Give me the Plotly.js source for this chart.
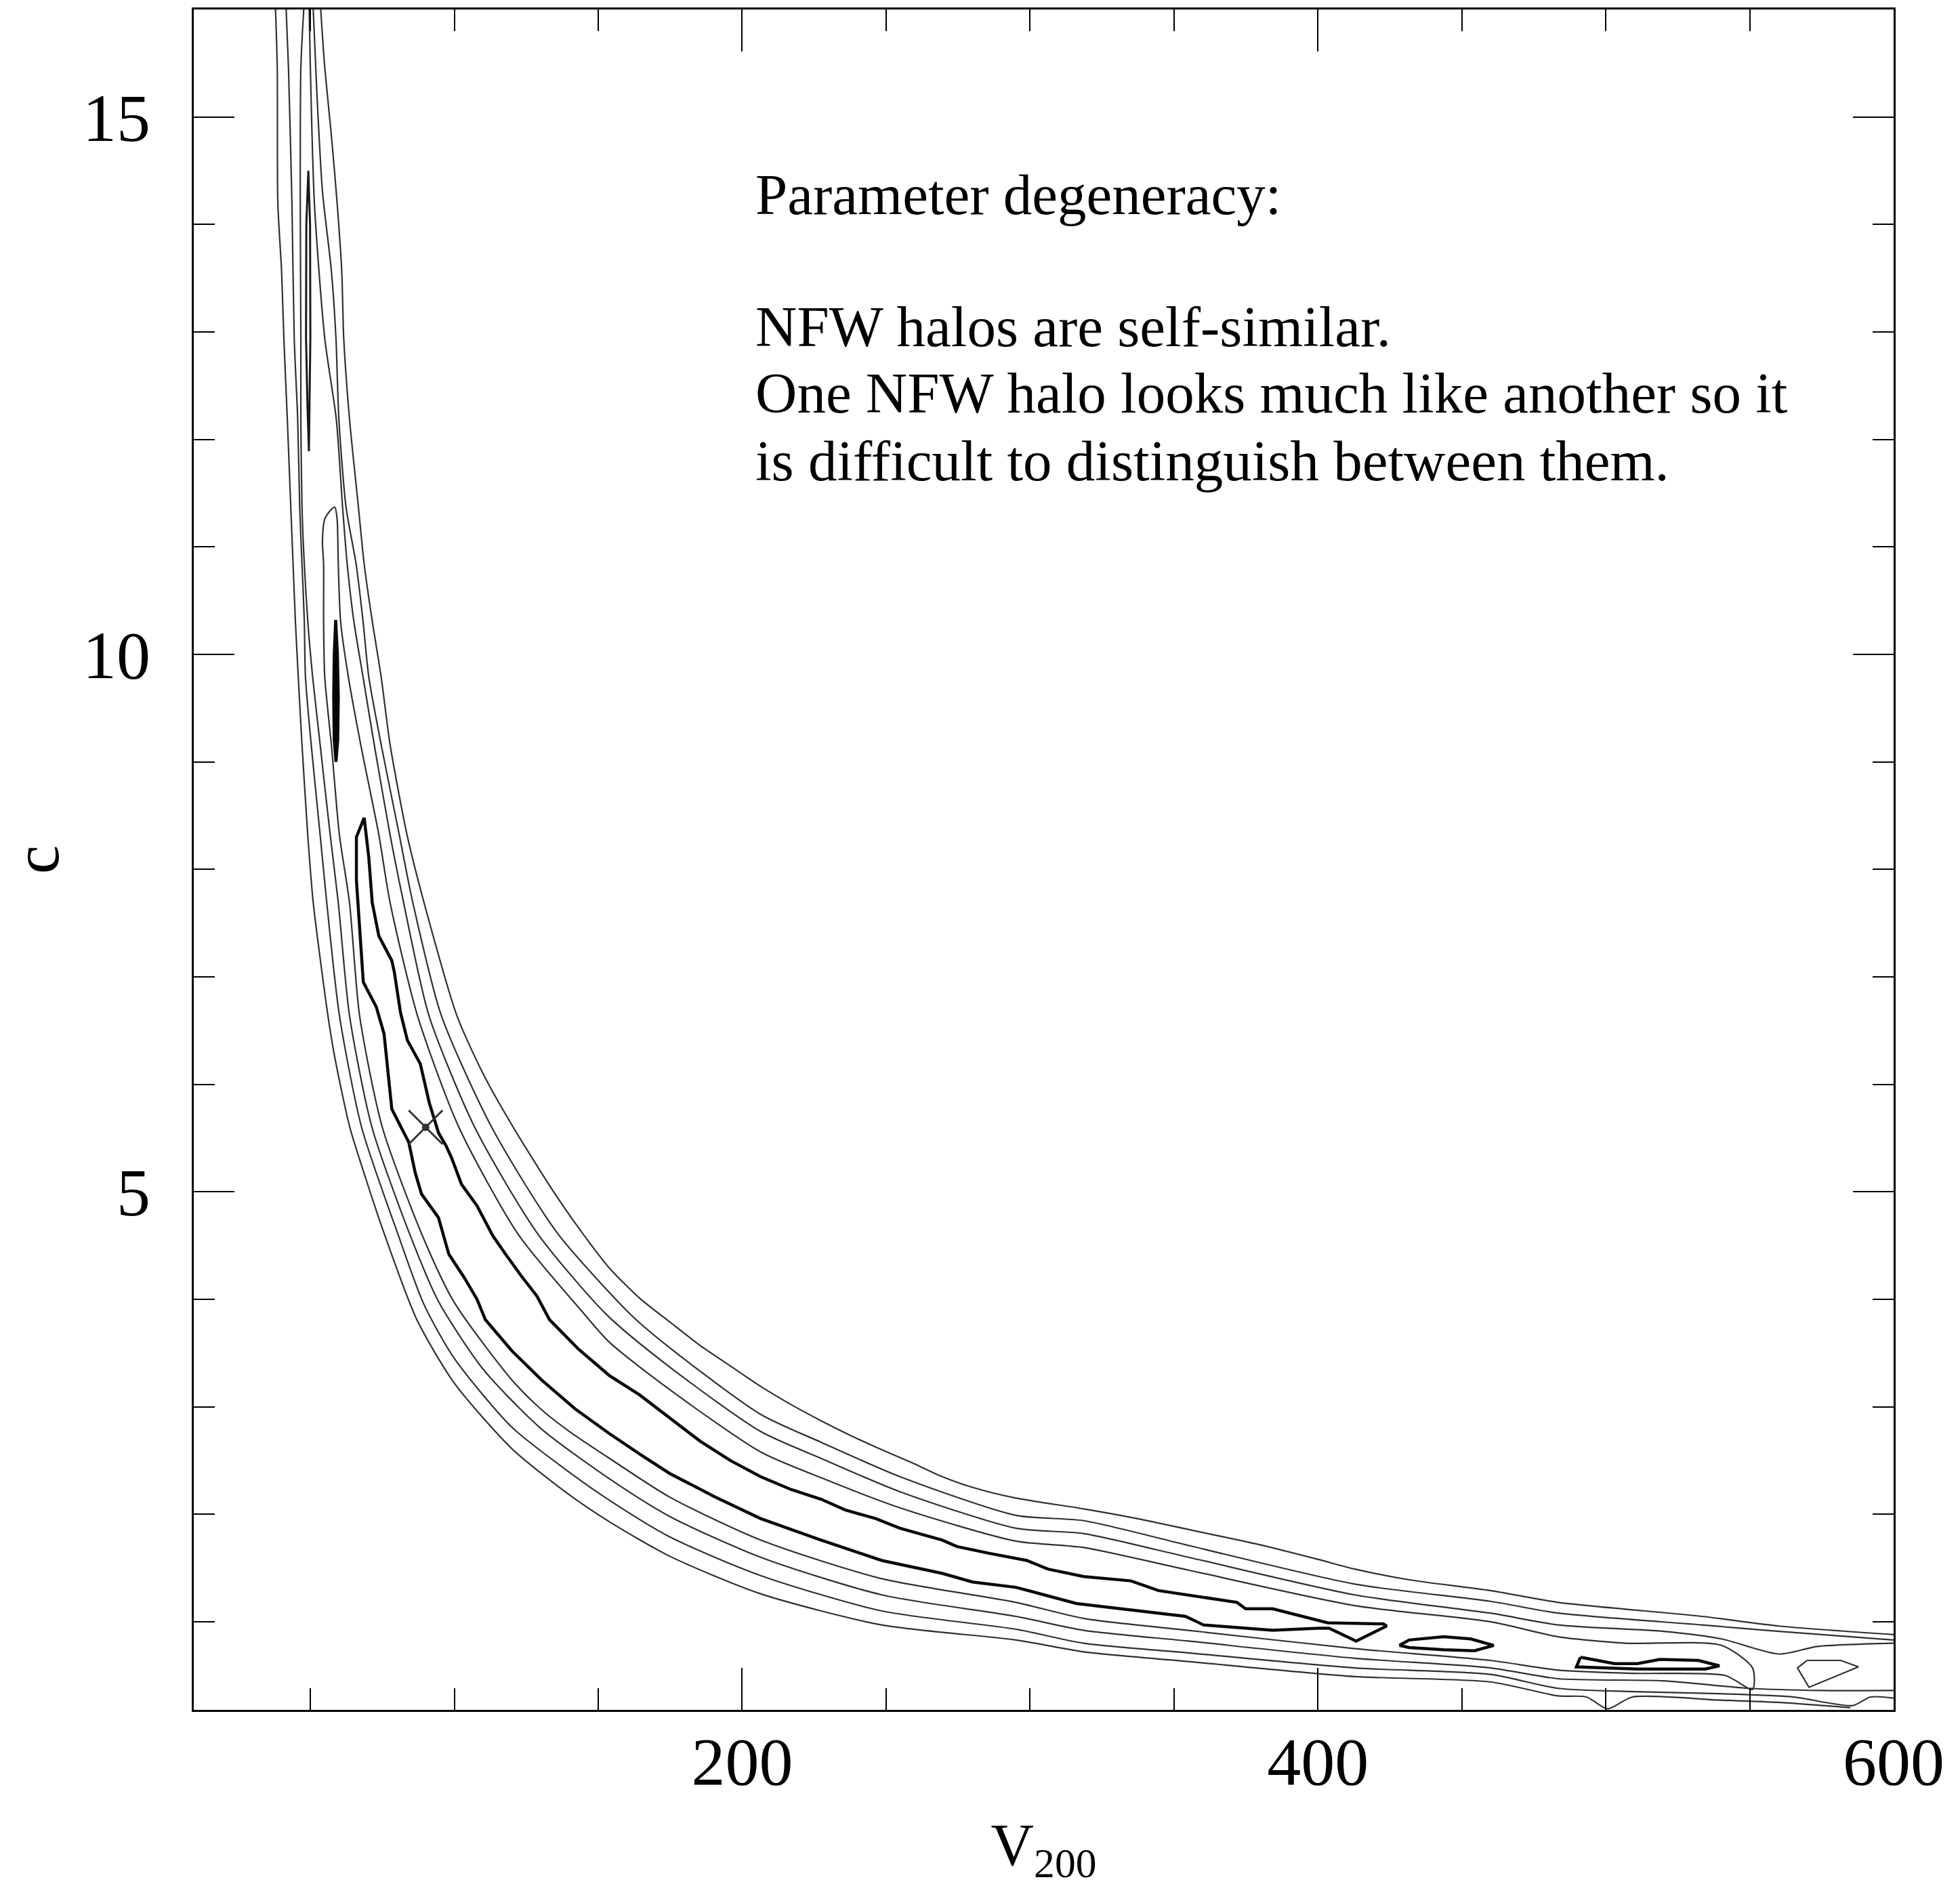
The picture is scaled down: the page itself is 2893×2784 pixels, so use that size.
<!DOCTYPE html>
<html>
<head>
<meta charset="utf-8">
<script src="https://cdn.plot.ly/plotly-3.0.1.min.js"></script>
<style>html,body{margin:0;padding:0;background:#fff}</style>
</head>
<body>
<div id="chart" style="width:2893px;height:2784px"></div>
<script>
// ---------------- data (V200, c) ----------------
// thick innermost contour (main band)
const thickMainV = [68.7,70.3,71.5,73.8,78.3,79.2,81.3,83.7,88.2,91.3,94.5,97.1,99.0,102.5,107.9,113.4,117.8,123.2,128.7,133.1,143.0,153.9,164.4,174.8,185.4,195.9,206.4,217.0,227.4,235.8,246.4,254.8,269.5,274.6,285.2,298.9,306.2,318.7,335.1,344.6,371.9,374.9,384.3,403.4,422.7,423.9,413.3,403.9,400.1,384.3,360.3,354.0,316.1,295.1,280.0,269.5,248.5,227.4,206.4,190.6,174.8,164.4,153.9,142.0,130.3,120.0,110.8,107.9,103.5,98.1,94.5,88.6,86.4,84.2,78.3,75.6,72.9,68.4,67.1,66.0,66.0,68.7];
const thickMainC = [8.48,8.11,7.69,7.38,7.15,7.04,6.67,6.41,6.19,5.83,5.55,5.43,5.32,5.07,4.87,4.59,4.42,4.22,4.03,3.81,3.54,3.29,3.11,2.90,2.68,2.50,2.35,2.23,2.14,2.04,1.96,1.87,1.76,1.70,1.64,1.57,1.49,1.42,1.38,1.29,1.18,1.12,1.12,0.99,0.98,0.96,0.82,0.94,0.94,0.92,0.97,1.05,1.17,1.32,1.37,1.45,1.57,1.76,1.96,2.16,2.38,2.56,2.75,2.98,3.25,3.52,3.81,4.00,4.20,4.42,4.76,4.98,5.18,5.46,5.77,6.47,6.72,6.95,7.48,7.90,8.30,8.48];

// thick islands
const island1V = [49.3,49.9,50.0,49.8,49.5,49.0,48.5,48.6,49.3];
const island1C = [14.50,14.0,12.94,12.31,11.89,12.31,12.94,14.0,14.50];
const island2V = [58.8,59.4,59.7,59.5,58.9,58.3,58.1,58.3,58.8];
const island2C = [10.32,10.0,9.6,9.2,9.0,9.2,9.6,10.0,10.32];
const island3V = [428.3,431.7,443.7,453.1,461.1,454.4,443.7,431.7,428.3];
const island3C = [0.78,0.83,0.86,0.84,0.78,0.73,0.74,0.76,0.78];
const island4V = [491.2,503.0,511.0,518.8,532.2,539.5,534.6,511.0,489.8,491.2];
const island4C = [0.67,0.61,0.61,0.65,0.64,0.59,0.56,0.56,0.58,0.67];

// thin contour level 2 (closed loop: lower branch then upper branch)
const level2V = [551,541.5,510,483.5,459.9,412.8,355,318.7,295.1,248.5,206.4,174.8,153.9,140,130,120,100,88.8,75.0,67.1,63.6,60.1,57.3,55.0,54.6,54.6,54.2,55.0,57.3,58.5,59.3,59.7,60.5,63.2,67.5,73.8,77.7,87.2,101.6,122.3,144.6,153.9,174.8,206.4,227.4,254.8,295.1,318.7,355,412.8,459.9,483.5,506.8,540.2,551,551];
const level2C = [0.37,0.50,0.52,0.55,0.64,0.75,0.92,1.03,1.18,1.40,1.76,2.16,2.52,2.77,2.98,3.25,3.97,4.60,5.60,6.64,7.69,8.32,9.16,9.79,10.31,10.84,11.05,11.26,11.35,11.37,11.26,10.84,10.31,9.79,9.16,8.32,7.69,6.64,5.60,4.60,3.88,3.60,3.16,2.58,2.34,2.06,1.75,1.69,1.48,1.15,1.00,0.86,0.80,0.78,0.57,0.37];

// thin contour level 3 (lower branch, upper branch)
const level3LowV = [47.7,46.7,46.5,46.7,46.7,47.1,47.9,49.1,50.8,53.4,56.9,59.7,63.6,71.4,84.6,94.5,110,130,153.9,174.8,206.4,248.5,295.1,318.7,355,412.8,459.9,483.5,520,550,575,600];
const level3LowC = [16.0,15.46,14.2,12.94,12.19,11.37,10.84,10.31,9.79,9.16,8.32,7.69,6.64,5.60,4.60,3.98,3.35,2.80,2.33,1.98,1.60,1.25,1.05,0.92,0.82,0.66,0.57,0.47,0.45,0.38,0.36,0.36];
const level3UpV = [49.6,50.0,51.4,55.0,59.0,61.2,62.8,65.1,68.3,72.2,77.7,82.4,91.2,107.1,128.7,152.8,174.8,206.4,227.4,254.8,295.1,318.7,355,412.8,459.9,483.5,520.1,540.2,560.2,573.6,600];
const level3UpC = [16.0,15.46,14.2,12.94,12.19,11.37,10.84,10.31,9.79,9.16,8.32,7.69,6.64,5.60,4.62,3.86,3.37,2.77,2.52,2.21,1.87,1.82,1.60,1.25,1.08,0.97,0.91,0.84,0.70,0.77,0.80];

// thin contour level 4
const level4LowV = [41.6,42.4,43.6,44.4,45.6,46.3,47.1,47.9,48.3,50.3,53.4,55.7,60.1,67.8,80.5,89.5,100,120,140,153.9,174.8,206.4,248.5,295.1,318.7,355,412.8,459.9,483.5,510,540,565,585.8,592,600];
const level4LowC = [16.0,15.46,14.2,12.94,12.19,11.37,10.84,10.31,9.79,9.16,8.32,7.69,6.64,5.60,4.60,3.95,3.45,2.81,2.39,2.13,1.79,1.43,1.10,0.93,0.80,0.71,0.57,0.51,0.38,0.35,0.33,0.30,0.22,0.30,0.29];
const level4UpV = [51.0,52.2,54.2,57.3,58.9,59.9,62.4,65.9,68.3,70.3,74.6,80.9,85.6,95.5,113.0,135.7,161.6,174.8,206.4,227.4,254.8,295.1,318.7,355,412.8,459.9,483.5,533.5,560.2,600];
const level4UpC = [16.0,15.26,14.31,13.57,12.94,12.19,11.37,10.84,10.31,9.79,9.16,8.32,7.69,6.64,5.60,4.62,3.85,3.55,2.93,2.67,2.35,1.99,1.94,1.71,1.35,1.19,1.08,0.97,0.91,0.83];

// thin contour level 5 (outermost)
const level5LowV = [37.9,38.5,38.7,40.0,40.8,42.0,43.2,44.0,44.8,45.8,47.1,49.1,51.0,56.1,58.5,63.7,69.3,75.8,87.0,100,120,140,153.9,174.8,206.4,248.5,295.1,318.7,355,412.8,459.9,483.5,493.3,500.6,509.3,540,560,585];
const level5LowC = [16.0,15.46,14.2,13.57,12.94,12.19,11.37,10.84,10.31,9.79,9.16,8.32,7.69,6.64,6.25,5.60,5.12,4.60,3.81,3.22,2.61,2.18,1.93,1.61,1.26,0.97,0.83,0.72,0.63,0.49,0.44,0.31,0.30,0.19,0.30,0.27,0.25,0.20];
const level5UpV = [53.6,55.0,57.3,59.3,60.9,61.6,63.6,66.7,68.7,71.5,74.6,77.7,83.6,89.5,100.9,109.8,120.5,135.0,144.4,153.9,164.4,174.8,185.4,195.9,206.4,217.0,227.4,237.9,248.5,258.9,269.5,280.0,295.1,318.7,337.2,358.2,379.2,400.1,412.8,431.7,459.9,483.5,533.5,560.2,600];
const level5UpC = [16.0,15.46,14.83,14.20,13.57,12.94,12.19,11.37,10.84,10.31,9.79,9.16,8.32,7.69,6.64,6.11,5.60,4.98,4.62,4.29,4.01,3.79,3.57,3.38,3.19,3.02,2.87,2.73,2.60,2.48,2.35,2.25,2.15,2.05,1.96,1.84,1.72,1.58,1.49,1.39,1.29,1.18,1.05,0.96,0.88];

// small thin loop near the right edge
const loopRightV = [569.9,581.6,587.8,577.6,570.6,566.6,569.9];
const loopRightC = [0.64,0.64,0.58,0.47,0.39,0.57,0.64];

// best-fit point
const bestV = [90.05];
const bestC = [5.6];

// axis ticks / labels
const xMajorTicks = [200, 400, 600];
const yMajorTicks = [5, 10, 15];
const textLines = [
  'Parameter degeneracy:',
  'NFW halos are self-similar.',
  'One NFW halo looks much like another so it',
  'is difficult to distinguish between them.'
];
const textLineC = [14.28, 13.05, 12.43, 11.80];

// ---------------- build traces ----------------
const thin = {color: '#303030', width: 2.2, shape: 'spline', smoothing: 0.7};
const thick = {color: '#0a0a0a', width: 4.5};
function line(x, y, style, extra) {
  return Object.assign({type: 'scatter', mode: 'lines', x: x, y: y, line: style, hoverinfo: 'skip'}, extra || {});
}
const traces = [
  line(level5LowV, level5LowC, thin),
  line(level5UpV, level5UpC, thin),
  line(level4LowV, level4LowC, thin),
  line(level4UpV, level4UpC, thin),
  line(level3LowV, level3LowC, thin),
  line(level3UpV, level3UpC, thin),
  line(level2V, level2C, thin),
  line(loopRightV, loopRightC, {color: '#303030', width: 2.2}),
  line(thickMainV, thickMainC, thick),
  line(island1V, island1C, {color: '#1a1a1a', width: 3}),
  line(island2V, island2C, thick, {fill: 'toself', fillcolor: '#000'}),
  line(island3V, island3C, thick),
  line(island4V, island4C, thick),
  {type: 'scatter', mode: 'markers', x: bestV, y: bestC, hoverinfo: 'skip',
   marker: {symbol: 'x-thin-open', size: 50, color: '#333', line: {color: '#333', width: 3}}},
  {type: 'scatter', mode: 'markers', x: bestV, y: bestC, hoverinfo: 'skip',
   marker: {symbol: 'circle', size: 11, color: '#333'}}
];

const annotations = textLines.map((t, i) => ({
  x: 204.2, y: textLineC[i], xref: 'x', yref: 'y', xanchor: 'left', yanchor: 'middle',
  text: t, showarrow: false, align: 'left',
  font: {family: 'Liberation Serif, Times New Roman, serif', size: 85, color: '#000'}
}));

const axisCommon = {
  ticks: 'inside', tickwidth: 2, tickcolor: '#000',
  showline: true, linecolor: '#000', linewidth: 3, mirror: 'ticks',
  showgrid: false, zeroline: false,
  tickfont: {family: 'Liberation Serif, Times New Roman, serif', size: 100, color: '#000'}
};

const layout = {
  width: 2893, height: 2784,
  margin: {l: 286, r: 98, t: 14, b: 260},
  paper_bgcolor: '#fff', plot_bgcolor: '#fff',
  showlegend: false,
  font: {family: 'Liberation Serif, Times New Roman, serif', color: '#000'},
  xaxis: Object.assign({}, axisCommon, {
    range: [9.5, 600], tickmode: 'array', tickvals: xMajorTicks,
    ticklen: 62,
    minor: {tickmode: 'linear', tick0: 0, dtick: 50, ticks: 'inside', ticklen: 32, tickwidth: 2, tickcolor: '#000', showgrid: false},
    ticklabelstandoff: -13,
    title: {text: 'V<sub>200</sub>', font: {family: 'Liberation Serif, Times New Roman, serif', size: 88, color: '#000'}, standoff: 62}
  }),
  yaxis: Object.assign({}, axisCommon, {
    range: [0.18, 16.0], tickmode: 'array', tickvals: yMajorTicks,
    ticklen: 60,
    minor: {tickmode: 'linear', tick0: 0, dtick: 1, ticks: 'inside', ticklen: 31, tickwidth: 2, tickcolor: '#000', showgrid: false},
    ticklabelstandoff: 41,
    title: {text: 'c', font: {family: 'Liberation Serif, Times New Roman, serif', size: 96, color: '#000'}, standoff: 72}
  }),
  annotations: annotations
};

Plotly.newPlot('chart', traces, layout, {staticPlot: true, displayModeBar: false});
</script>
</body>
</html>
